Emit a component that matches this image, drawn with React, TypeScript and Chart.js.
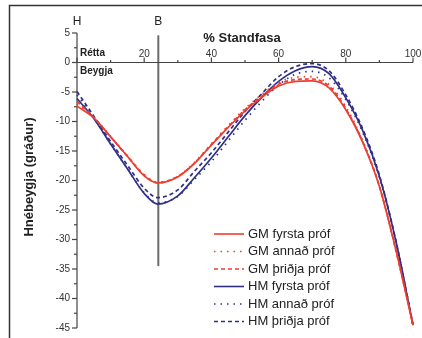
import React, { useEffect, useRef } from "react";
import { Chart, registerables } from "chart.js";

Chart.register(...registerables);

// % stance phase
const xVals = [0, 5, 10, 15, 20, 24, 30, 35, 40, 45, 50, 55, 60, 65, 70, 75, 80, 85, 90, 95, 100];

// knee flexion (degrees)
const gmFirst = [-7.4, -9.4, -12.6, -15.9, -19.2, -20.4, -19.4, -17.1, -14.0, -11.0, -8.2, -5.9, -4.0, -3.2, -3.1, -4.3, -8.0, -13.5, -21.0, -32.0, -44.5];
const gmSecond = [-7.0, -9.3, -12.5, -15.8, -19.0, -20.3, -19.3, -16.9, -13.8, -10.7, -7.8, -5.4, -3.4, -2.5, -2.4, -3.7, -7.5, -13.2, -21.0, -32.0, -44.5];
const gmThird = [-6.6, -9.3, -12.6, -15.9, -19.1, -20.4, -19.3, -17.0, -13.9, -10.9, -8.0, -5.7, -3.7, -2.9, -2.8, -4.0, -7.8, -13.4, -21.0, -32.0, -44.5];
const hmFirst = [-6.1, -9.5, -13.8, -18.0, -22.2, -24.0, -22.6, -19.5, -16.2, -12.6, -9.0, -5.9, -3.2, -1.4, -0.7, -1.9, -6.0, -11.5, -19.3, -30.5, -44.5];
const hmSecond = [-5.5, -9.4, -13.8, -18.0, -22.1, -23.8, -22.7, -19.8, -16.8, -13.3, -9.8, -6.6, -3.8, -2.0, -1.5, -2.6, -6.3, -11.8, -19.5, -30.5, -44.5];
const hmThird = [-4.9, -9.1, -13.4, -17.4, -21.3, -22.9, -21.6, -18.4, -15.3, -11.8, -8.3, -5.3, -2.4, -0.7, -0.2, -1.4, -5.5, -11.2, -19.1, -30.5, -44.5];

const seriesLabels = ["GM fyrsta próf", "GM annað próf", "GM þriðja próf", "HM fyrsta próf", "HM annað próf", "HM þriðja próf"];
const seriesValues = [gmFirst, gmSecond, gmThird, hmFirst, hmSecond, hmThird];

const yTickValues = [5, 0, -5, -10, -15, -20, -25, -30, -35, -40, -45];
const xTickValues = [20, 40, 60, 80, 100];
const xTitle = "% Standfasa";
const yTitle = "Hnébeygja (gráður)";
const markH = 0;
const markB = 24.2;

const RED = "#ee3d2f";
const BLUE = "#2f2f88";
const colors = [RED, RED, RED, BLUE, BLUE, BLUE];
const dashes = [[], [1.5, 5], [4, 3], [], [1.5, 5], [4, 3]];
const FONT = "'Liberation Sans', Arial, sans-serif";

export default function App() {
  const ref = useRef<HTMLCanvasElement>(null);

  useEffect(() => {
    if (!ref.current) return;
    const overlay = {
      id: "overlay",
      beforeDatasetsDraw(chart: any) {
        const { ctx } = chart;
        const x = chart.scales.x;
        const y = chart.scales.y;
        ctx.save();
        // outer frame (left and top)
        ctx.strokeStyle = "#333";
        ctx.lineWidth = 1.5;
        ctx.beginPath();
        ctx.moveTo(9.5, 338);
        ctx.lineTo(9.5, 5.5);
        ctx.lineTo(422, 5.5);
        ctx.stroke();

        // B vertical line
        ctx.strokeStyle = "#6b6b6b";
        ctx.lineWidth = 2;
        ctx.beginPath();
        ctx.moveTo(x.getPixelForValue(markB), y.getPixelForValue(4.6));
        ctx.lineTo(x.getPixelForValue(markB), y.getPixelForValue(-34.5));
        ctx.stroke();

        // y axis
        ctx.strokeStyle = "#444";
        ctx.lineWidth = 1.2;
        const x0 = x.getPixelForValue(0);
        ctx.beginPath();
        ctx.moveTo(x0, y.getPixelForValue(5));
        ctx.lineTo(x0, y.getPixelForValue(-45));
        ctx.stroke();
        for (let v = 5; v >= -45; v -= 2.5) {
          const py = y.getPixelForValue(v);
          const major = Math.abs(v % 5) < 0.01;
          ctx.beginPath();
          ctx.moveTo(x0 - (major ? 5 : 3), py);
          ctx.lineTo(x0, py);
          ctx.stroke();
        }
        ctx.fillStyle = "#333";
        ctx.font = `10px ${FONT}`;
        ctx.textAlign = "right";
        ctx.textBaseline = "middle";
        yTickValues.forEach((v) => {
          ctx.fillText(String(v), x0 - 7, y.getPixelForValue(v));
        });

        // x axis at y=0
        const y0 = y.getPixelForValue(0);
        ctx.beginPath();
        ctx.moveTo(x0, y0);
        ctx.lineTo(x.getPixelForValue(100), y0);
        ctx.stroke();
        for (let v = 0; v <= 100; v += 10) {
          const px = x.getPixelForValue(v);
          const major = v % 20 === 0;
          ctx.beginPath();
          ctx.moveTo(px, y0);
          ctx.lineTo(px, y0 - (major ? 5 : 2.5));
          ctx.stroke();
        }
        ctx.textAlign = "center";
        ctx.textBaseline = "alphabetic";
        xTickValues.forEach((v) => {
          ctx.fillText(String(v), x.getPixelForValue(v), y0 - 6);
        });
        ctx.restore();
      },
      afterDatasetsDraw(chart: any) {
        const { ctx } = chart;
        const x = chart.scales.x;
        ctx.save();
        ctx.fillStyle = "#222";
        ctx.textBaseline = "middle";
        // H / B marks
        ctx.font = `12px ${FONT}`;
        ctx.textAlign = "center";
        ctx.fillText("H", x.getPixelForValue(markH), 22);
        ctx.fillText("B", x.getPixelForValue(markB), 22);
        // x title
        ctx.font = `bold 13px ${FONT}`;
        ctx.fillText(xTitle, 242, 38);
        // Rétta / Beygja
        ctx.font = `bold 10px ${FONT}`;
        ctx.textAlign = "left";
        ctx.fillText("Rétta", x.getPixelForValue(0) + 3, 53);
        ctx.fillText("Beygja", x.getPixelForValue(0) + 3, 71);
        // y title
        ctx.save();
        ctx.translate(29, 177);
        ctx.rotate(-Math.PI / 2);
        ctx.font = `bold 13px ${FONT}`;
        ctx.textAlign = "center";
        ctx.fillText(yTitle, 0, 0);
        ctx.restore();
        // legend
        const lx0 = 214;
        const lx1 = 244;
        const rowY = [234, 251.5, 269, 286.5, 304, 321.5];
        seriesLabels.forEach((lab, i) => {
          const ry = rowY[i];
          ctx.strokeStyle = colors[i];
          ctx.lineWidth = 1.6;
          ctx.setLineDash(dashes[i]);
          ctx.beginPath();
          ctx.moveTo(lx0, ry);
          ctx.lineTo(lx1, ry);
          ctx.stroke();
          ctx.setLineDash([]);
          ctx.fillStyle = "#222";
          ctx.font = `13px ${FONT}`;
          ctx.textAlign = "left";
          ctx.fillText(lab, lx1 + 4, ry);
        });
        ctx.restore();
      },
    };

    const chart = new Chart(ref.current, {
      type: "line",
      data: {
        datasets: seriesValues.map((vals, i) => ({
          label: seriesLabels[i],
          data: xVals.map((xv, j) => ({ x: xv, y: vals[j] })),
          borderColor: colors[i],
          borderWidth: 1.7,
          borderDash: dashes[i],
          pointRadius: 0,
          cubicInterpolationMode: "monotone" as const,
          fill: false,
          clip: false as any,
        })),
      },
      options: {
        animation: false,
        responsive: false,
        maintainAspectRatio: false,
        layout: { padding: { left: 77, right: 9, top: 33, bottom: 10 } },
        plugins: { legend: { display: false }, tooltip: { enabled: false } },
        scales: {
          x: { type: "linear", min: 0, max: 100, display: false },
          y: { type: "linear", min: -45, max: 5, display: false },
        },
      },
      plugins: [overlay],
    });
    return () => chart.destroy();
  }, []);

  return (
    <div style={{ position: "fixed", left: 0, top: 0, width: 422, height: 338, background: "#fff" }}>
      <canvas ref={ref} width={422} height={338} style={{ width: 422, height: 338, display: "block" }} />
    </div>
  );
}
